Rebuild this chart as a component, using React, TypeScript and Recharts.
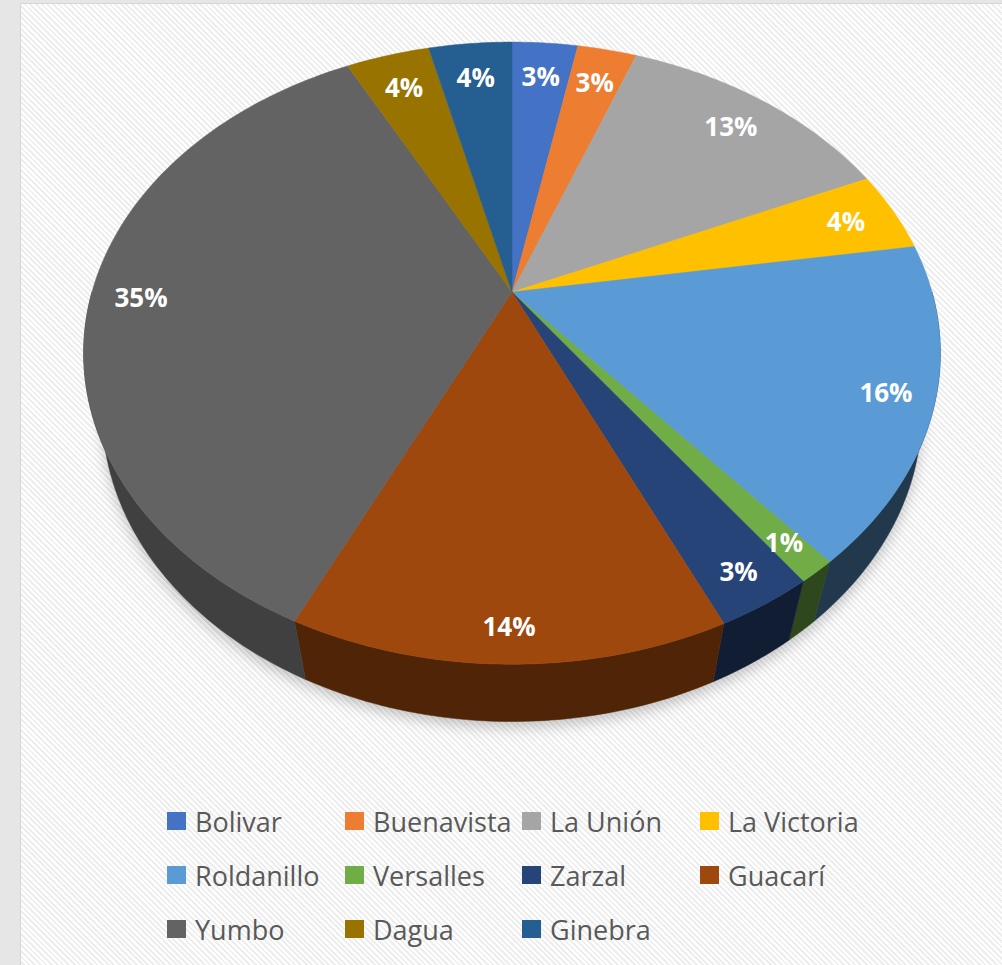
import React from 'react';
import { PieChart, Pie, Cell, Legend } from 'recharts';

// municipios y su participación (%)
const NAMES = ['Bolivar', 'Buenavista', 'La Unión', 'La Victoria', 'Roldanillo', 'Versalles', 'Zarzal', 'Guacarí', 'Yumbo', 'Dagua', 'Ginebra'];
const VALUES = [3.0, 2.7, 12.6, 4.2, 16.4, 1.2, 3.1, 13.8, 35.4, 3.8, 3.8];
const COLORS = ['#4472C4', '#ED7D31', '#A5A5A5', '#FFC000', '#5B9BD5', '#70AD47', '#264478', '#9E480E', '#636363', '#997300', '#255E91'];

const data = NAMES.map((name, i) => ({ name, value: VALUES[i] }));

// "3D" a mano: el disco se inclina y se proyecta con algo de perspectiva
const TILT = (45.4 * Math.PI) / 180;
const PERSP = 0.28;
const DEPTH = 0.22;
const FONT = "'Open Sans', 'DejaVu Sans', sans-serif";

function project(cx: number, cy: number, R: number, phiDeg: number, rho: number, w: number) {
  const p = (phiDeg * Math.PI) / 180;
  const u = rho * Math.cos(p);
  const v = rho * Math.sin(p);
  const h = v * Math.sin(TILT) + w * Math.cos(TILT);
  const z = 1 + PERSP * (v * Math.cos(TILT) - w * Math.sin(TILT));
  return [cx + (R * u) / z, cy - (R * h) / z];
}

function arc(cx: number, cy: number, R: number, a0: number, a1: number, w: number) {
  const pts: number[][] = [];
  const n = Math.max(2, Math.ceil(Math.abs(a1 - a0)));
  for (let i = 0; i <= n; i++) pts.push(project(cx, cy, R, a0 + ((a1 - a0) * i) / n, 1, w));
  return pts;
}

const toPath = (pts: number[][]) => 'M' + pts.map((p) => p[0].toFixed(2) + ',' + p[1].toFixed(2)).join('L') + 'Z';

function shade(hex: string, f: number) {
  const n = parseInt(hex.slice(1), 16);
  const c = [(n >> 16) & 255, (n >> 8) & 255, n & 255].map((x) => Math.round(x * f));
  return `rgb(${c[0]},${c[1]},${c[2]})`;
}

const renderShadow = (p: any) => {
  const { cx, cy, outerRadius, startAngle, endAngle } = p;
  const pts = [project(cx, cy, outerRadius, 0, 0, -DEPTH), ...arc(cx, cy, outerRadius, startAngle, endAngle, -DEPTH)];
  return (
    <g key={'sh' + p.index}>
      <defs>
        <filter id={'blur' + p.index} x="-20%" y="-20%" width="140%" height="140%">
          <feGaussianBlur stdDeviation="7" />
        </filter>
      </defs>
      <path d={toPath(pts.map((q) => [q[0], q[1] + 6]))} fill="rgba(0,0,0,0.22)" filter={`url(#blur${p.index})`} />
    </g>
  );
};

const renderSlice = (p: any) => {
  const { cx, cy, outerRadius, startAngle, endAngle, midAngle, index } = p;
  const color = COLORS[index];
  // solo la parte delantera del canto se ve
  const a0 = Math.min(startAngle, 0);
  const a1 = Math.max(endAngle, -180);
  const f = 0.5 - 0.15 * Math.cos((midAngle * Math.PI) / 180);
  let side = null;
  if (a0 > a1) {
    const top = arc(cx, cy, outerRadius, a0, a1, 0);
    const bot = arc(cx, cy, outerRadius, a1, a0, -DEPTH);
    side = <path d={toPath([...top, ...bot])} fill={shade(color, f)} stroke={shade(color, f)} strokeWidth={0.5} />;
  }
  const face = [project(cx, cy, outerRadius, 0, 0, 0), ...arc(cx, cy, outerRadius, startAngle, endAngle, 0)];
  return (
    <g key={'sl' + index}>
      {side}
      <path d={toPath(face)} fill={color} stroke={color} strokeWidth={0.5} />
    </g>
  );
};

const renderText = (p: any) => {
  const { cx, cy, outerRadius, midAngle, percent, index } = p;
  const rho = 0.88 - 0.035 * Math.sin((midAngle * Math.PI) / 180);
  const [x, y] = project(cx, cy, outerRadius, midAngle, rho, 0);
  return (
    <text key={'tx' + index} x={x} y={y} fill="#ffffff" fontFamily={FONT} fontWeight={700} fontSize={26} textAnchor="middle" dominantBaseline="central">
      {Math.round(percent * 100)}%
    </text>
  );
};

const renderLegend = (props: any) => {
  const items = (props.payload || [])
    .filter((it: any) => it.type !== 'none')
    .slice()
    .sort((a: any, b: any) => NAMES.indexOf(a.value) - NAMES.indexOf(b.value));
  return (
    <div style={{ display: 'grid', gridTemplateColumns: '178px 177px 178px 180px' }}>
      {items.map((it: any) => (
        <div key={it.value} style={{ display: 'flex', alignItems: 'center', height: 54 }}>
          <span style={{ width: 19, height: 18, background: COLORS[NAMES.indexOf(it.value)], marginRight: 9, flex: 'none' }} />
          <span style={{ fontFamily: FONT, fontSize: 27, color: '#595959', whiteSpace: 'nowrap' }}>{it.value}</span>
        </div>
      ))}
    </div>
  );
};

export default function App() {
  return (
    <div style={{ position: 'absolute', left: 0, top: 0, width: 1002, height: 965, background: '#e6e6e6', overflow: 'hidden', fontFamily: FONT }}>
      <div
        style={{
          position: 'absolute', left: 20, top: 3, width: 990, height: 970, boxSizing: 'border-box',
          border: '1px solid #d6d6d6',
          background: 'repeating-linear-gradient(45deg, #ffffff 0px, #ffffff 2px, #eeeeee 2px, #eeeeee 4px)',
        }}
      />
      <div style={{ position: 'absolute', left: 0, top: 0 }}>
        <PieChart width={1002} height={965} margin={{ top: 0, right: 0, bottom: 0, left: 0 }}>
          <Pie data={data} dataKey="value" nameKey="name" cx={512} cy={292} outerRadius={420} startAngle={90} endAngle={-270}
            fill="transparent" stroke="none" legendType="none" label={renderShadow} labelLine={false} isAnimationActive={false} />
          <Pie data={data} dataKey="value" nameKey="name" cx={512} cy={292} outerRadius={420} startAngle={90} endAngle={-270}
            stroke="none" label={renderSlice} labelLine={false} isAnimationActive={false}>
            {data.map((d, i) => (
              <Cell key={d.name} fill={COLORS[i]} fillOpacity={0} />
            ))}
          </Pie>
          <Pie data={data} dataKey="value" nameKey="name" cx={512} cy={292} outerRadius={420} startAngle={90} endAngle={-270}
            fill="transparent" stroke="none" legendType="none" label={renderText} labelLine={false} isAnimationActive={false} />
          <Legend content={renderLegend} wrapperStyle={{ left: 167, top: 794, width: 720 }} />
        </PieChart>
      </div>
    </div>
  );
}
